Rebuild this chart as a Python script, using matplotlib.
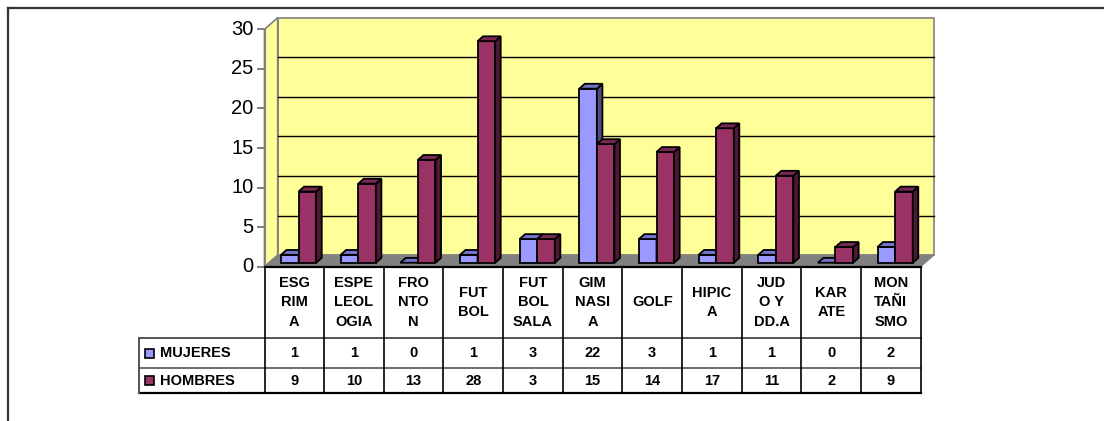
import matplotlib
matplotlib.use("Agg")
import matplotlib.pyplot as plt
from matplotlib.patches import Polygon, Rectangle
from matplotlib.lines import Line2D

plt.rcParams['font.family'] = ['Liberation Sans', 'DejaVu Sans']

# datos por deporte
deportes = ['ESG\nRIM\nA', 'ESPE\nLEOL\nOGIA', 'FRO\nNTO\nN', 'FUT\nBOL',
            'FUT\nBOL\nSALA', 'GIM\nNASI\nA', 'GOLF', 'HIPIC\nA',
            'JUD\nO Y\nDD.A', 'KAR\nATE', 'MON\nTAÑI\nSMO']
mujeres = [1, 1, 0, 1, 3, 22, 3, 1, 1, 0, 2]
hombres = [9, 10, 13, 28, 3, 15, 14, 17, 11, 2, 9]
series = ['MUJERES', 'HOMBRES']
y_ticks = [0, 5, 10, 15, 20, 25, 30]

W, H = 1104, 421
n = len(deportes)

fig = plt.figure(figsize=(W / 100, H / 100), dpi=100)
fig.patch.set_facecolor('white')

# marco exterior
fig.add_artist(Line2D([7.5 / W, 1.0], [1 - 7.5 / H, 1 - 7.5 / H],
                      color='#333333', lw=1.6, transform=fig.transFigure))
fig.add_artist(Line2D([7.5 / W, 7.5 / W], [0.0, 1 - 7.5 / H],
                      color='#333333', lw=1.6, transform=fig.transFigure))

# plano frontal del grafico
x0, x1 = 264.5, 920.7
y_zero, y_top = 266.7, 29.3
ax = fig.add_axes([x0 / W, 1 - y_zero / H, (x1 - x0) / W, (y_zero - y_top) / H])
ax.set_xlim(0, n)
ax.set_ylim(0, 30)
ax.axis('off')

px = (x1 - x0) / n           # pixeles por categoria
py = (y_zero - y_top) / 30   # pixeles por unidad
DX = 13.2 / px
DY = 11.6 / py

def poly(pts, fc, ec, lw, z):
    ax.add_patch(Polygon(pts, closed=True, facecolor=fc, edgecolor=ec,
                         linewidth=lw, zorder=z, clip_on=False,
                         joinstyle='miter'))

ymax = y_ticks[-1]
gris = '#808080'
# pared del fondo, pared lateral y suelo
poly([(DX, DY), (n + DX, DY), (n + DX, ymax + DY), (DX, ymax + DY)],
     '#FFFF99', gris, 1.2, 1)
poly([(0, 0), (DX, DY), (DX, ymax + DY), (0, ymax)], '#FFFF99', gris, 1.2, 1)
poly([(0, 0), (n, 0), (n + DX, DY), (DX, DY)], gris, gris, 0.8, 2)

# lineas de division
for v in y_ticks[1:-1]:
    ax.add_line(Line2D([DX, n + DX], [v + DY, v + DY], color='black',
                       lw=1.0, zorder=1.5, clip_on=False))

# eje vertical y marcas
ax.add_line(Line2D([0, 0], [0, ymax], color=gris, lw=1.4, zorder=3, clip_on=False))
for v in y_ticks:
    ax.add_line(Line2D([-7 / px, 0], [v, v], color=gris, lw=1.4, zorder=3,
                       clip_on=False))
    ax.text(-11 / px, v, str(v), ha='right', va='center', fontsize=14.5,
            color='black')

# barras 3D
f0, f1 = 0.34, 0.76
bw = 17.6 / px
offs = [12.0 / px, 12.0 / px + bw]
colores = [('#9999FF', '#7373C8', '#4D4D80'),
           ('#993366', '#7A2952', '#4D1A33')]
z = 10
for i in range(n):
    for k, vals in enumerate([mujeres, hombres]):
        v = vals[i]
        front, top, side = colores[k]
        xl = i + offs[k] + f0 * DX
        xr = xl + bw
        yb = f0 * DY
        yt = v + f0 * DY
        ddx = (f1 - f0) * DX
        ddy = (f1 - f0) * DY
        if v > 0:
            poly([(xl, yb), (xr, yb), (xr, yt), (xl, yt)], front, 'black', 1.3, z)
            poly([(xr, yb), (xr + ddx, yb + ddy), (xr + ddx, yt + ddy), (xr, yt)],
                 side, 'black', 1.3, z)
        poly([(xl, yt), (xr, yt), (xr + ddx, yt + ddy), (xl + ddx, yt + ddy)],
             top, 'black', 1.3, z)
        z += 1

# tabla de datos
tx0 = 139.0
tab = fig.add_axes([tx0 / W, 1 - 393.3 / H, (x1 - tx0) / W, (393.3 - y_zero) / H])
tab.set_xlim(-(x0 - tx0) / px, n)
tab.set_ylim(393.3 - y_zero, 0)
tab.axis('off')

r1, r2, r3 = 71.6, 101.6, 126.6
lx = -(x0 - tx0) / px
kw = dict(clip_on=False)
# lineas horizontales
tab.add_line(Line2D([0, n], [0, 0], color='black', lw=1.6, **kw))
tab.add_line(Line2D([lx, n], [r1, r1], color='#555555', lw=1.4, **kw))
tab.add_line(Line2D([lx, n], [r2, r2], color='#555555', lw=1.2, **kw))
tab.add_line(Line2D([lx, n], [r3, r3], color='black', lw=1.6, **kw))
# lineas verticales
tab.add_line(Line2D([lx, lx], [r1, r3], color='#555555', lw=1.4, **kw))
for i in range(n + 1):
    tab.add_line(Line2D([i, i], [0, r3], color='black', lw=1.2, **kw))

fs = 10.5
for i, nombre in enumerate(deportes):
    tab.text(i + 0.5, r1 / 2, nombre, ha='center', va='center', fontsize=fs,
             fontweight='bold', linespacing=1.5)
    tab.text(i + 0.5, (r1 + r2) / 2, str(mujeres[i]), ha='center', va='center',
             fontsize=fs, fontweight='bold')
    tab.text(i + 0.5, (r2 + r3) / 2, str(hombres[i]), ha='center', va='center',
             fontsize=fs, fontweight='bold')

# leyenda dentro de la tabla
for k, (nombre, yc) in enumerate(zip(series, [(r1 + r2) / 2, (r2 + r3) / 2])):
    tab.add_patch(Rectangle((lx + 6 / px, yc - 4.5), 8.5 / px, 9,
                            facecolor=colores[k][0], edgecolor='black',
                            lw=1.2, clip_on=False))
    tab.text(lx + 21 / px, yc, nombre, ha='left', va='center', fontsize=fs,
             fontweight='bold')

fig.savefig('out.png', dpi=100)
